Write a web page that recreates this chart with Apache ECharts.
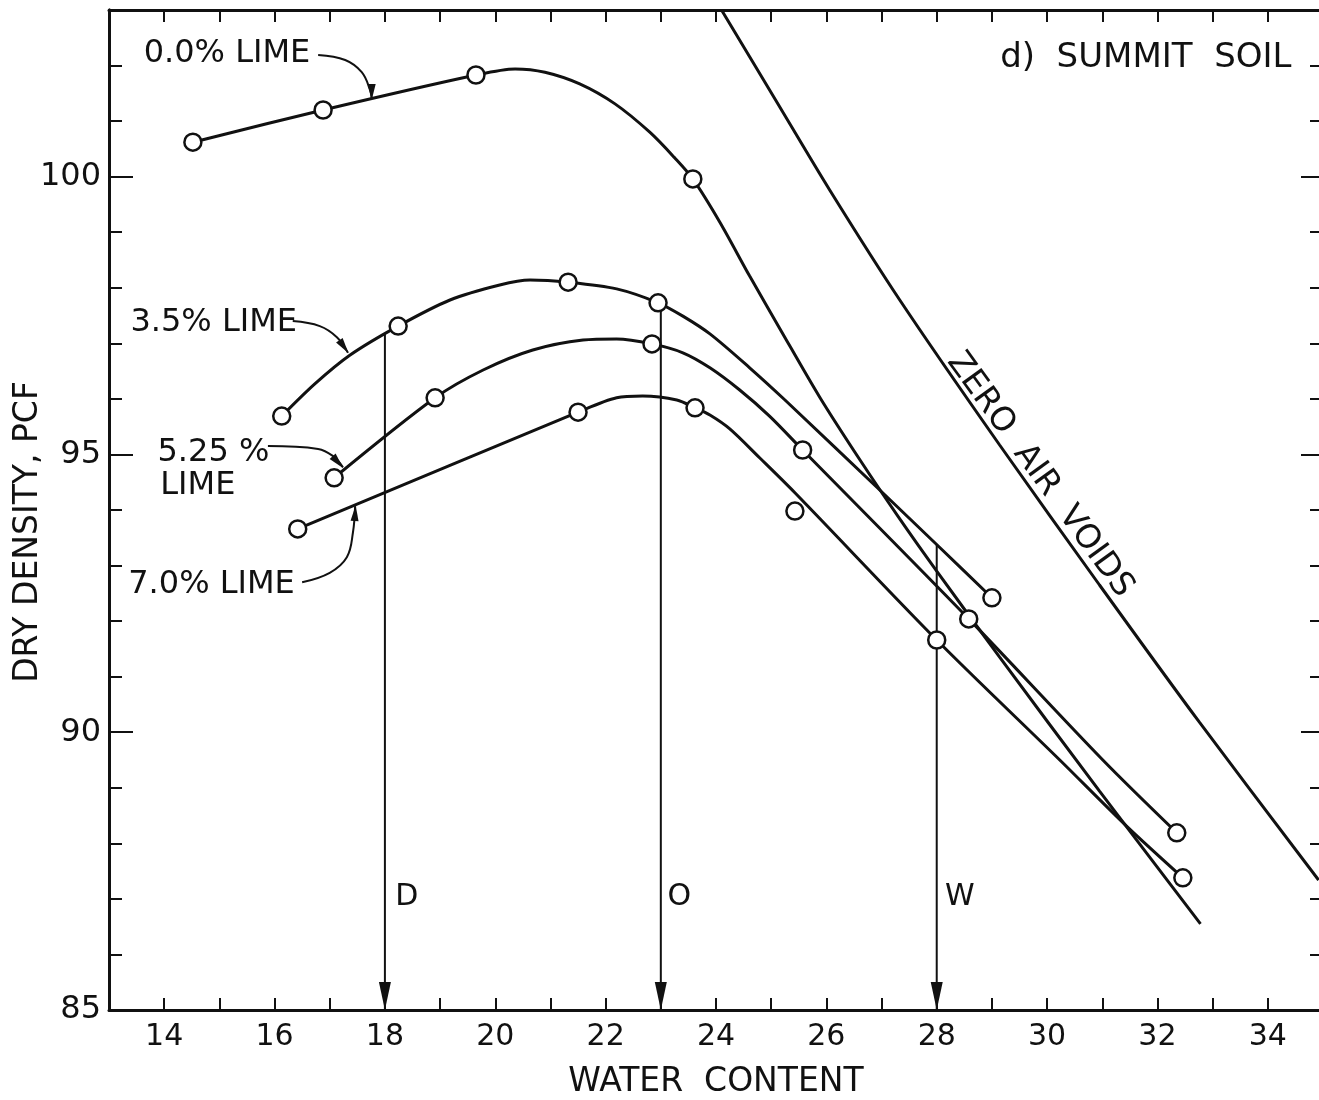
<!DOCTYPE html>
<html><head><meta charset="utf-8">
<script src="https://cdn.jsdelivr.net/npm/echarts@6/dist/echarts.min.js"></script>
<style>html,body{margin:0;padding:0;background:#fff}#chart{width:1319px;height:1100px}</style>
</head><body><div id="chart"></div>
<script>
// ---------- DATA ----------
const xTickLabels = [14, 16, 18, 20, 22, 24, 26, 28, 30, 32, 34];
const yTickLabels = [85, 90, 95, 100];

// measured points (circles)
const lime0Measured   = [[14.52,100.62],[16.88,101.20],[19.65,101.83],[23.58,99.96]];
const lime35Measured  = [[16.13,95.69],[18.24,97.31],[21.32,98.10],[22.95,97.73],[29.00,92.42]];
const lime525Measured = [[17.08,94.58],[18.91,96.02],[22.84,96.99],[25.57,95.08],[28.58,92.04],[32.35,88.19]];
const lime70Measured  = [[16.42,93.66],[21.50,95.76],[23.62,95.84],[25.43,93.98],[28.00,91.66],[32.46,87.38]];

// drawn curves
const lime0Curve = [[14.52,100.62],[16.88,101.20],[19.65,101.83],[20.36,101.94],[20.90,101.88],[21.53,101.67],[22.17,101.31],[22.80,100.80],[23.25,100.34],[23.58,99.96],[24.07,99.18],[24.61,98.21],[25.16,97.26],[25.88,96.03],[26.61,94.90],[27.33,93.84],[28.00,92.90],[29.14,91.35],[30.95,88.94],[32.78,86.55]];
const lime35Curve = [[16.13,95.69],[16.73,96.27],[17.37,96.79],[18.24,97.31],[19.18,97.78],[20.08,98.05],[20.63,98.14],[21.32,98.10],[22.20,97.98],[22.95,97.73],[23.40,97.49],[23.89,97.17],[24.61,96.56],[25.25,95.98],[27.02,94.31],[28.05,93.33],[29.00,92.42]];
const lime525Curve = [[17.08,94.58],[18.91,96.02],[19.78,96.52],[20.68,96.88],[21.59,97.06],[22.20,97.08],[22.84,96.99],[23.40,96.83],[23.89,96.56],[24.43,96.16],[24.97,95.69],[25.57,95.08],[28.58,92.04],[31.01,89.50],[32.35,88.19]];
const lime70Curve = [[16.42,93.66],[21.50,95.76],[22.20,96.02],[22.67,96.05],[23.29,95.98],[23.62,95.84],[23.89,95.71],[24.25,95.46],[24.79,94.94],[25.43,94.31],[28.00,91.66],[30.23,89.50],[31.44,88.31],[32.46,87.38]];
const zeroAirVoids = [[24.10,103.0],[25.08,101.38],[26.06,99.76],[27.33,97.78],[29.14,95.17],[30.95,92.65],[32.76,90.18],[34.92,87.34]];

// vertical markers D, O, W (water content, top density where they start)
const markerNames = ['D', 'O', 'W'];
const markerX = [18, 23, 28];
const markerTop = [97.17, 97.70, 93.38];

// ---------- ANNOTATIONS ----------
const FONT = 'DejaVu Sans';
const INK = '#111';

const texts = [
  { name: '0.0% LIME', value: [13.62, 102.22] },
  { name: 'd)  SUMMIT  SOIL', value: [29.14, 102.13], size: 34 },
  { name: '3.5% LIME', value: [13.38, 97.37] },
  { name: '5.25 %', value: [13.87, 95.03] },
  { name: 'LIME', value: [13.92, 94.43] },
  { name: '7.0% LIME', value: [13.34, 92.65] },
  { name: markerNames[0], value: [18.18, 87.03], size: 30 },
  { name: markerNames[1], value: [23.11, 87.03], size: 30 },
  { name: markerNames[2], value: [28.14, 87.03], size: 30 }
];
const leaders = [
  { pts: [[16.79,102.19],[17.28,102.10],[17.58,101.88],[17.73,101.56],[17.76,101.40]], rot: 180, off: [0,-7] },
  { pts: [[16.33,97.40],[16.82,97.31],[17.13,97.11],[17.33,96.83]], rot: -145, off: [-4,-6] },
  { pts: [[15.88,95.15],[16.79,95.10],[17.06,94.97],[17.24,94.77]], rot: -138, off: [-5,-5] },
  { pts: [[16.50,92.70],[17.00,92.87],[17.31,93.15],[17.42,93.59],[17.46,94.07]], rot: -4, off: [0,7] }
];

const chart = echarts.init(document.getElementById('chart'), null, { renderer: 'canvas' });

const series = [];
function curve(data) {
  series.push({ type: 'line', data, smooth: 0.3, symbol: 'none', z: 3,
    lineStyle: { color: INK, width: 3 }, silent: true });
}
[lime0Curve, lime35Curve, lime525Curve, lime70Curve, zeroAirVoids].forEach(curve);

markerX.forEach((x, i) => {
  series.push({ type: 'line', symbol: 'none', z: 2, silent: true,
    lineStyle: { color: INK, width: 2 },
    data: [[x, markerTop[i]], { value: [x, 85], symbol: 'triangle', symbolSize: [12, 28], symbolRotate: 180, symbolOffset: [0, -14], itemStyle: { color: INK, opacity: 1 } }]
  });
});

leaders.forEach(l => {
  const d = l.pts.map((p, i) => i === l.pts.length - 1
    ? { value: p, symbol: 'triangle', symbolSize: [8, 16], symbolRotate: l.rot, symbolOffset: l.off, itemStyle: { color: INK, opacity: 1 } }
    : p);
  series.push({ type: 'line', data: d, smooth: 0.4, symbol: 'none', z: 2, silent: true,
    lineStyle: { color: INK, width: 2 } });
});

[lime0Measured, lime35Measured, lime525Measured, lime70Measured].forEach(d => {
  series.push({ type: 'scatter', data: d, symbol: 'circle', symbolSize: 17, z: 6, silent: true,
    itemStyle: { color: '#fff', borderColor: INK, borderWidth: 2.5, opacity: 1 } });
});

series.push({
  type: 'scatter', z: 8, silent: true, symbolSize: 1,
  itemStyle: { color: 'rgba(0,0,0,0)', opacity: 1 },
  label: { show: true, position: 'right', distance: 0, formatter: '{b}', color: INK, opacity: 1,
    fontFamily: FONT, fontSize: 32, verticalAlign: 'middle' },
  data: texts.map(t => ({ name: t.name, value: t.value,
    label: t.size ? { fontSize: t.size } : undefined }))
    .concat([{ name: 'ZERO  AIR  VOIDS', value: [29.87, 94.63],
      label: { position: 'inside', rotate: -54, align: 'center', verticalAlign: 'middle', fontSize: 33 } }])
});

const axisFont = { color: INK, fontFamily: FONT };
const spine = { show: true, lineStyle: { color: INK, width: 3 } };

const option = {
  backgroundColor: '#fff',
  animation: false,
  grid: { left: 109, right: -4, top: 10, bottom: 90, containLabel: false, outerBoundsMode: 'none' },
  xAxis: [
    { type: 'value', position: 'bottom', min: 13, max: 35, interval: 1,
      axisLine: spine, splitLine: { show: false },
      axisTick: { inside: true, length: 12, lineStyle: { color: INK, width: 2 } },
      axisLabel: Object.assign({ fontSize: 30, margin: 12,
        formatter: v => xTickLabels.includes(v) ? String(v) : '' }, axisFont),
      name: 'WATER  CONTENT', nameLocation: 'middle', nameGap: 56, nameMoveOverlap: false,
      nameTextStyle: Object.assign({ fontSize: 33 }, axisFont) },
    { type: 'value', position: 'top', min: 13, max: 35, interval: 1,
      axisLine: spine, splitLine: { show: false },
      axisTick: { inside: true, length: 12, lineStyle: { color: INK, width: 2 } },
      axisLabel: { show: false } }
  ],
  yAxis: [
    { type: 'value', position: 'left', offset: 0, min: 85, max: 103, interval: 1,
      axisLine: spine, splitLine: { show: false },
      axisTick: { inside: true, length: 13, lineStyle: { color: INK, width: 2 } },
      axisLabel: { show: false } },
    { type: 'value', position: 'left', offset: 0, min: 85, max: 103, interval: 5,
      axisLine: spine, splitLine: { show: false },
      axisTick: { inside: true, length: 24, lineStyle: { color: INK, width: 2 } },
      axisLabel: Object.assign({ fontSize: 32, margin: 8,
        formatter: v => yTickLabels.includes(v) ? String(v) : '' }, axisFont),
      name: 'DRY DENSITY, PCF', nameLocation: 'middle', nameGap: 64, nameRotate: 90, nameMoveOverlap: false,
      nameTextStyle: Object.assign({ fontSize: 33, padding: [0, 44, 0, 0] }, axisFont) },
    { type: 'value', position: 'right', offset: 0, min: 85, max: 103, interval: 1,
      axisLine: spine, splitLine: { show: false },
      axisTick: { inside: true, length: 13, lineStyle: { color: INK, width: 2 } },
      axisLabel: { show: false } },
    { type: 'value', position: 'right', offset: 0, min: 85, max: 103, interval: 5,
      axisLine: spine, splitLine: { show: false },
      axisTick: { inside: true, length: 22, lineStyle: { color: INK, width: 2 } },
      axisLabel: { show: false } }
  ],
  series
};
chart.setOption(option);
</script></body></html>
